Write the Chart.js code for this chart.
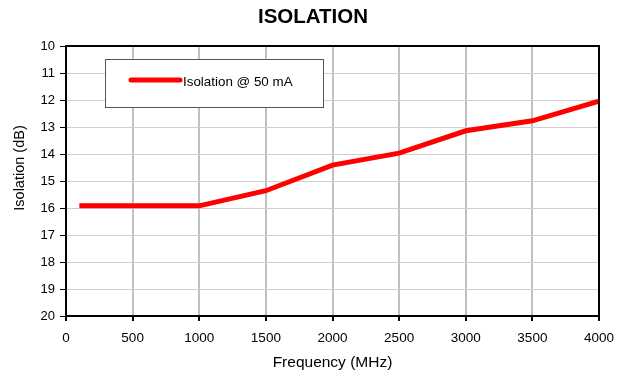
<!DOCTYPE html>
<html><head><meta charset="utf-8">
<script src="https://cdn.jsdelivr.net/npm/chart.js@4"></script>
<style>html,body{margin:0;padding:0;background:#fff}#wrap{width:620px;height:378px}</style>
</head><body><div id="wrap"><canvas id="c" width="620" height="378"></canvas></div>
<script>
const chartTitle = "ISOLATION";
const seriesLabel = "Isolation @ 50 mA";
const frequencies = [100, 500, 1000, 1500, 2000, 2500, 3000, 3500, 4000];
const isolation = [15.92, 15.92, 15.92, 15.36, 14.41, 13.97, 13.14, 12.77, 12.04];
const xTitle = "Frequency (MHz)";
const yTitle = "Isolation (dB)";

const FONT = "'Liberation Sans', Arial, sans-serif";

const decor = {
  id: 'decor',
  afterDraw(chart) {
    const ctx = chart.ctx, a = chart.chartArea;
    ctx.save();
    // frame top/right
    ctx.strokeStyle = '#000'; ctx.lineWidth = 2;
    ctx.beginPath();
    ctx.moveTo(a.left, a.top); ctx.lineTo(a.right, a.top); ctx.lineTo(a.right, a.bottom);
    ctx.stroke();
    // title
    ctx.fillStyle = '#000';
    ctx.font = "bold 20.5px " + FONT;
    ctx.textAlign = 'center'; ctx.textBaseline = 'middle';
    ctx.fillText(chartTitle, 313, 17);
    // axis titles
    ctx.font = "15.5px " + FONT;
    ctx.fillText(xTitle, (a.left + a.right) / 2, 363);
    ctx.save();
    ctx.translate(20, 168);
    ctx.rotate(-Math.PI / 2);
    ctx.font = "14.5px " + FONT;
    ctx.fillText(yTitle, 0, 0);
    ctx.restore();
    // legend box
    const bx = 105, by = 59, bw = 218, bh = 48;
    ctx.fillStyle = '#fff';
    ctx.fillRect(bx, by, bw, bh);
    ctx.strokeStyle = '#555'; ctx.lineWidth = 1;
    ctx.strokeRect(bx + 0.5, by + 0.5, bw, bh);
    const ds = chart.data.datasets[0];
    ctx.strokeStyle = ds.borderColor; ctx.lineWidth = 5; ctx.lineCap = 'round';
    ctx.beginPath(); ctx.moveTo(131, 80); ctx.lineTo(180, 80); ctx.stroke();
    ctx.fillStyle = '#000';
    ctx.font = "13.4px " + FONT;
    ctx.textAlign = 'left';
    ctx.fillText(ds.label, 183, 82);
    ctx.restore();
  }
};

new Chart(document.getElementById('c'), {
  type: 'line',
  data: {
    datasets: [{
      label: seriesLabel,
      data: frequencies.map((f, i) => ({x: f, y: isolation[i]})),
      borderColor: '#ff0000',
      borderWidth: 5,
      pointRadius: 0,
      tension: 0,
      fill: false
    }]
  },
  options: {
    responsive: false,
    animation: false,
    layout: { padding: { top: 46, right: 21, left: 0, bottom: 0 } },
    plugins: { legend: { display: false }, title: { display: false }, tooltip: { enabled: false } },
    scales: {
      x: {
        type: 'linear', min: 0, max: 4000,
        ticks: { stepSize: 500, color: '#000', font: { family: FONT, size: 13.5 }, padding: 9, maxRotation: 0,
                 callback: v => String(v) },
        grid: { color: '#c0c0c0', lineWidth: 2, tickColor: '#000', tickLength: 5, tickWidth: 2 },
        border: { color: '#000', width: 2 },
        afterFit(s) { s.height = 62; s.paddingLeft = 0; s.paddingRight = 0; }
      },
      y: {
        type: 'linear', min: 10, max: 20, reverse: true,
        ticks: { stepSize: 1, color: '#000', font: { family: FONT, size: 13 }, padding: 5 },
        grid: { color: '#d0d0d0', lineWidth: 1, tickColor: '#000', tickLength: 6, tickWidth: 1 },
        border: { color: '#000', width: 2 },
        afterFit(s) { s.width = 66; s.paddingTop = 0; s.paddingBottom = 0; }
      }
    }
  },
  plugins: [decor]
});
</script></body></html>
